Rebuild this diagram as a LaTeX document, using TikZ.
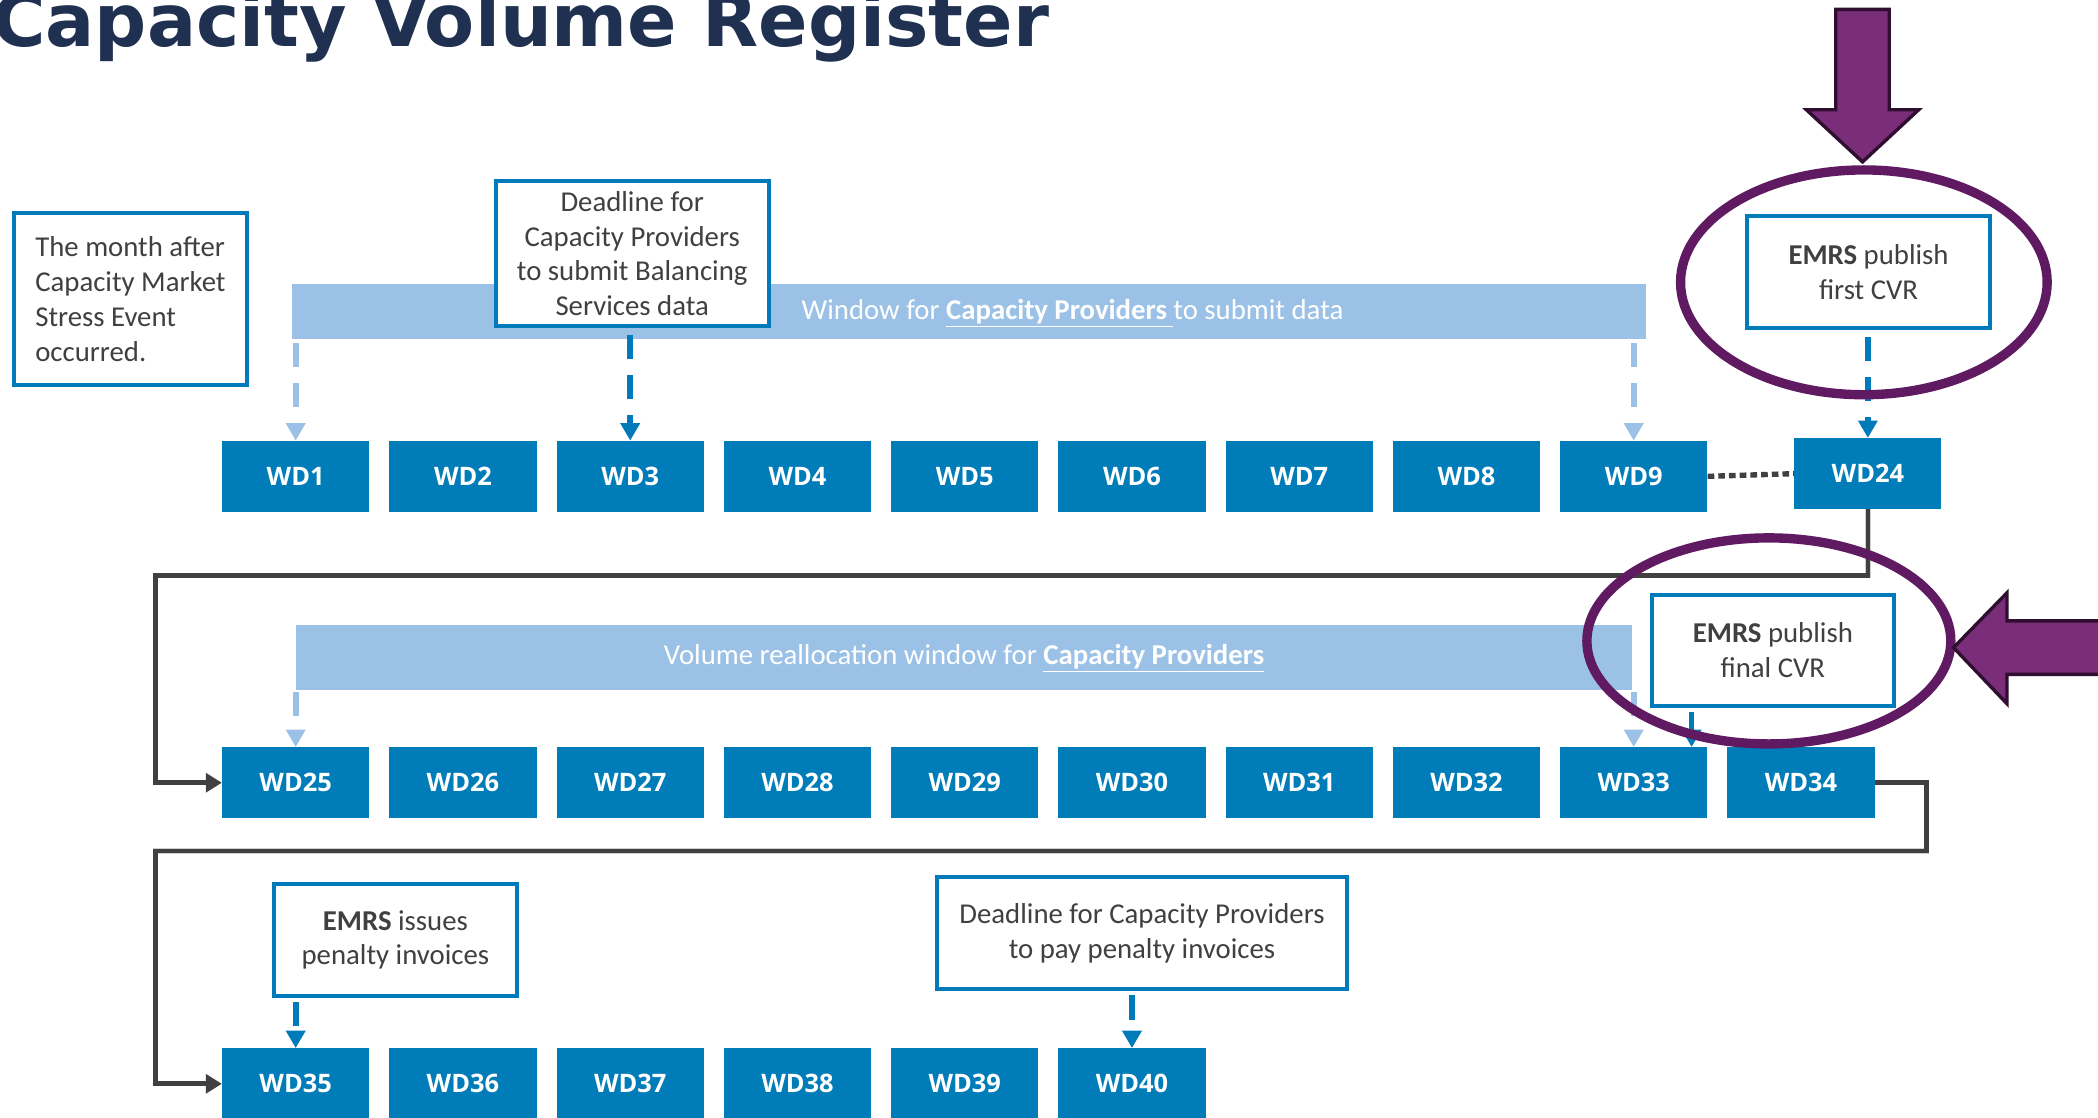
\documentclass[tikz,border=0pt]{standalone}
\usepackage{fontspec}
\setmainfont{Carlito}
\newfontfamily\headfont{DejaVu Sans}
\newfontfamily\daysfont{Open Sans}
\usetikzlibrary{arrows.meta,calc}

\definecolor{wdblue}{RGB}{0,125,184}
\definecolor{bandblue}{RGB}{155,194,230}
\definecolor{frameblue}{RGB}{0,122,184}
\definecolor{notegray}{RGB}{64,64,64}
\definecolor{navy}{RGB}{31,48,80}
\definecolor{linkgray}{RGB}{64,64,64}
\definecolor{plum}{RGB}{96,26,98}
\definecolor{plumfill}{RGB}{122,45,120}
\definecolor{plumedge}{RGB}{48,14,48}

\begin{document}
\begin{tikzpicture}[x=1pt,y=-1pt,
  wd/.style={fill=wdblue, minimum width=110pt, minimum height=53pt, inner sep=0pt,
    text=white, font=\daysfont\bfseries\fontsize{19}{21}\selectfont},
  band/.style={fill=bandblue, inner sep=0pt},
  bandtext/.style={text=white, inner sep=0pt, font=\fontsize{21.5}{24}\selectfont},
  note/.style={draw=frameblue, line width=3pt, fill=white, inner sep=0pt,
    align=center, text=notegray, font=\fontsize{21.5}{26}\selectfont},
  lightdash/.style={draw=bandblue, line width=4.5pt, dash pattern=on 18pt off 12pt,
    -{Triangle[length=13pt,width=14pt]}},
  darkdash/.style={draw=frameblue, line width=4.5pt, dash pattern=on 18pt off 12pt,
    -{Triangle[length=13pt,width=14pt]}},
  darksolid/.style={draw=frameblue, line width=4pt, -{Triangle[length=13pt,width=14pt]}},
  link/.style={draw=linkgray, line width=3.5pt, -{Triangle[length=12pt,width=14pt]}},
  linkshade/.style={draw=black!18, line width=4pt},
  ring/.style={draw=plum, line width=7pt},
  bigarrow/.style={fill=plumfill, draw=plumedge, line width=2.5pt, line join=miter}
]
\useasboundingbox (0,0) rectangle (1568,835);
\clip (0,0) rectangle (1568,835);
\fill[white] (0,0) rectangle (1568,835);

% heading
\node[anchor=base west, inner sep=0pt, text=navy,
  font=\headfont\bfseries\fontsize{54.5}{56}\selectfont] (title) at (-6,35) {Capacity Volume Register};

% time windows
\node[band, minimum width=1012pt, minimum height=41pt] (band1) at (724,232.5) {};
\node[bandtext, anchor=west] (band1text) at (599,234)
  {Window for \underline{\textbf{Capacity Providers }}to submit data};
\node[band, minimum width=999pt, minimum height=49pt] (band2) at (720.5,491.5) {};
\node[bandtext] (band2text) at (720.5,492)
  {Volume reallocation window for \underline{\textbf{Capacity Providers}}};

% annotation boxes
\node[note, align=left, minimum width=174pt, minimum height=128pt] (month) at (97.5,223.5)
  {The month after\\Capacity Market\\Stress Event\\occurred.};
\node[note, minimum width=204pt, minimum height=108pt] (deadline1) at (472.5,189.5)
  {Deadline for\\Capacity Providers\\to submit Balancing\\Services data};
\node[note, minimum width=182pt, minimum height=84pt] (first) at (1396.5,203.5)
  {\textbf{EMRS} publish\\first CVR};
\node[note, minimum width=181pt, minimum height=83pt] (final) at (1325,486)
  {\textbf{EMRS} publish\\final CVR};
\node[note, minimum width=182pt, minimum height=84pt] (issues) at (295.5,702.5)
  {\textbf{EMRS} issues\\penalty invoices};
\node[note, minimum width=306pt, minimum height=84pt] (deadline2) at (853.5,697.5)
  {Deadline for Capacity Providers\\to pay penalty invoices};

% working days
\foreach \n [count=\i from 0] in {1,...,9}
  \node[wd] (wd\n) at ({221+125*\i},356) {WD\n};
\node[wd] (wd24) at (1396,354) {WD24};
\foreach \n [count=\i from 0] in {25,...,34}
  \node[wd] (wd\n) at ({221+125*\i},585) {WD\n};
\foreach \n [count=\i from 0] in {35,...,40}
  \node[wd] (wd\n) at ({221+125*\i},810) {WD\n};

% gap in the sequence
\draw[linkgray, line width=4pt, dash pattern=on 5pt off 3pt] (wd9.east) -- (wd24.west);

% pointers onto the days
\draw[lightdash, shorten <=3pt] (band1.south -| wd1.north) -- (wd1.north);
\draw[lightdash, shorten <=3pt] (band1.south -| wd9.north) -- (wd9.north);
\draw[darkdash, shorten <=5pt] (deadline1.south -| wd3.north) -- (wd3.north);
\draw[darkdash, shorten <=5pt] (first.south -| wd24.north) -- (wd24.north);
\draw[lightdash, shorten <=1pt] (band2.south -| wd25.north) -- (wd25.north);
\draw[lightdash, shorten <=1pt] (band2.south -| wd33.north) -- (wd33.north);
\coordinate (finalfoot) at ($(final.south west)!0.17!(final.south east)$);
\draw[darksolid, shorten <=3pt] (finalfoot) -- (finalfoot |- wd33.north);
\draw[darkdash, shorten <=3pt] (issues.south -| wd35.north) -- (wd35.north);
\draw[darkdash, shorten <=3pt] (deadline2.south -| wd40.north) -- (wd40.north);

% row-to-row connectors, with a soft shadow underneath
\coordinate (turnA) at (116,430);
\coordinate (turnB) at (1440,636);
\coordinate (turnC) at (116,636);
\begin{scope}[shift={(2,3)}]
  \draw[linkshade] (wd24.south) |- (turnA) |- ([xshift=-12pt]wd25.west);
  \draw[linkshade] (wd34.east) -| (turnB) -- (turnC) |- ([xshift=-12pt]wd35.west);
\end{scope}
\draw[link] (wd24.south) |- (turnA) |- (wd25.west);
\draw[link] (wd34.east) -| (turnB) -- (turnC) |- (wd35.west);

% highlight rings
\draw[ring] (1393,211) ellipse [x radius=137pt, y radius=84pt];
\draw[ring] (1322,479) ellipse [x radius=136pt, y radius=77pt];

% pointer arrows
\draw[bigarrow] (1372,7) -- (1412,7) -- (1412,82) -- (1434,82) -- (1392,121)
  -- (1350,82) -- (1372,82) -- cycle;
\draw[bigarrow] (1580,464) -- (1500,464) -- (1500,443) -- (1460,484) -- (1500,526)
  -- (1500,504) -- (1580,504) -- cycle;
\end{tikzpicture}
\end{document}
